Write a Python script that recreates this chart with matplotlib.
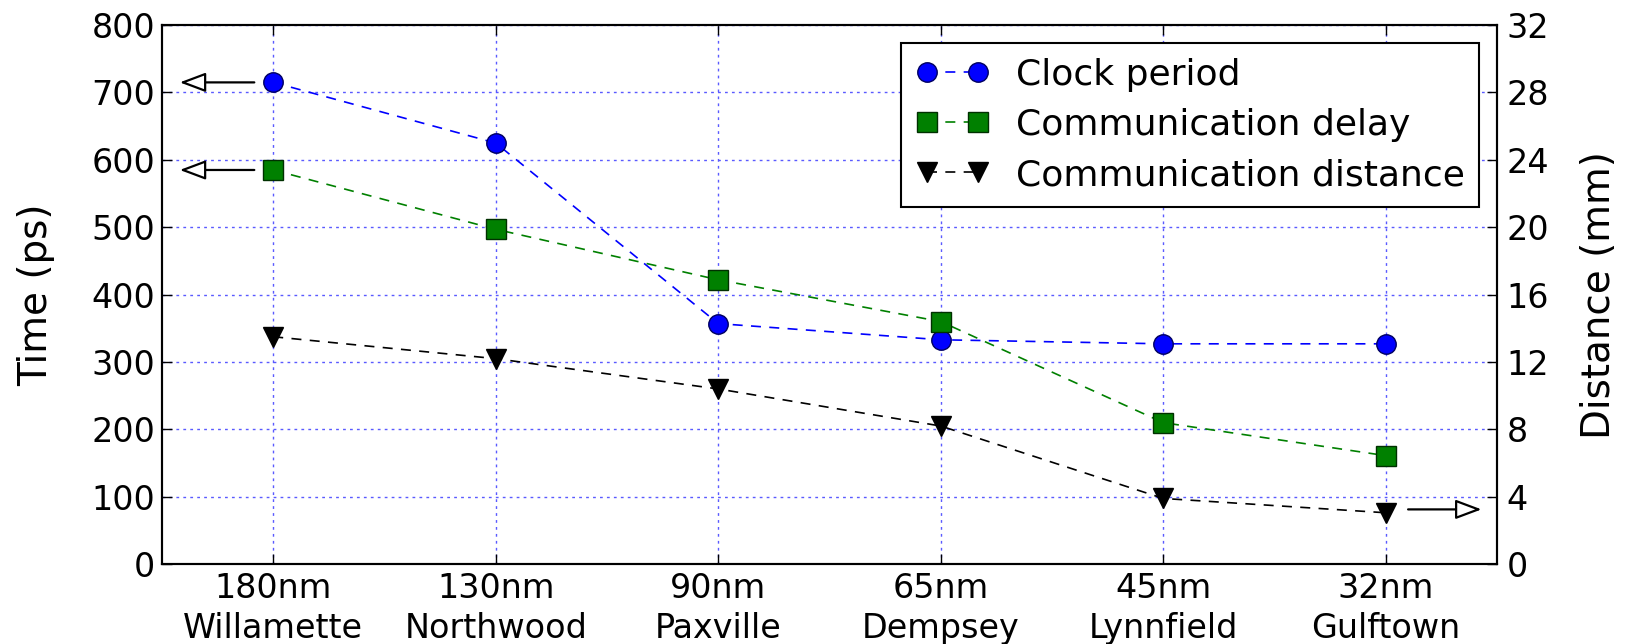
import matplotlib
matplotlib.use("Agg")
import matplotlib.pyplot as plt

nodes = ["180nm\nWillamette", "130nm\nNorthwood", "90nm\nPaxville",
         "65nm\nDempsey", "45nm\nLynnfield", "32nm\nGulftown"]
clock_period = [715, 625, 357, 333, 327, 327]          # ps
comm_delay = [585, 497, 422, 360, 210, 161]            # ps
comm_distance = [13.5, 12.2, 10.4, 8.2, 3.9, 3.05]     # mm

plt.rcParams['font.family'] = ['DejaVu Sans']
fig = plt.figure(figsize=(16.31, 6.44), dpi=100)
ax = fig.add_axes([0.0993, 0.124, 0.8186, 0.837])
ax2 = ax.twinx()

x = list(range(len(nodes)))
ax.grid(True, color='#5a5aff', linestyle=(0, (2, 3)), linewidth=1.0)
ax.set_axisbelow(True)

line_kw = dict(linestyle='--', linewidth=1.2, dashes=(6, 5), markersize=14)
l1, = ax.plot(x, clock_period, color='blue', marker='o',
              markerfacecolor='blue', markeredgecolor='#000060',
              label='Clock period', **line_kw)
l2, = ax.plot(x, comm_delay, color='green', marker='s',
              markerfacecolor='green', markeredgecolor='#003000',
              label='Communication delay', **line_kw)
l3, = ax2.plot(x, comm_distance, color='black', marker='v',
               markerfacecolor='black', markeredgecolor='black',
               label='Communication distance', **line_kw)

ax.set_xlim(-0.5, 5.5)
ax.set_ylim(0, 800)
ax.set_yticks(range(0, 801, 100))
ax2.set_ylim(0, 32)
ax2.set_yticks(range(0, 33, 4))
ax.set_xticks(x)
ax.set_xticklabels(nodes, linespacing=1.25)

for a in (ax, ax2):
    a.tick_params(axis='both', direction='in', length=7, width=1, labelsize=24)
    for s in a.spines.values():
        s.set_linewidth(1.5)
ax.tick_params(axis='x', top=True, pad=6)
ax.tick_params(axis='y', pad=5)
ax2.tick_params(axis='y', pad=7)

ax.set_ylabel('Time (ps)', fontsize=28, labelpad=26)
ax2.set_ylabel('Distance (mm)', fontsize=28, labelpad=22)

# Arrows showing which axis each series belongs to
arrow_kw = dict(arrowstyle='-|>,head_length=0.4,head_width=0.15',
                fc='white', ec='black', lw=1.6, mutation_scale=40,
                shrinkA=0, shrinkB=0)
ax.annotate('', xy=(-0.42, clock_period[0]), xytext=(-0.085, clock_period[0]),
            arrowprops=arrow_kw)
ax.annotate('', xy=(-0.42, comm_delay[0]), xytext=(-0.085, comm_delay[0]),
            arrowprops=arrow_kw)
ax2.annotate('', xy=(5.43, comm_distance[-1] + 0.2), xytext=(5.1, comm_distance[-1] + 0.2),
             arrowprops=arrow_kw)

leg = ax2.legend(handles=[l1, l2, l3], loc='upper right', fontsize=26,
                 numpoints=2, handlelength=2.02, borderaxespad=0.5,
                 fancybox=False, framealpha=1, edgecolor='black',
                 labelspacing=0.45, handletextpad=0.75, borderpad=0.4)
leg.get_frame().set_linewidth(1.5)

fig.savefig('out.png', dpi=100)
